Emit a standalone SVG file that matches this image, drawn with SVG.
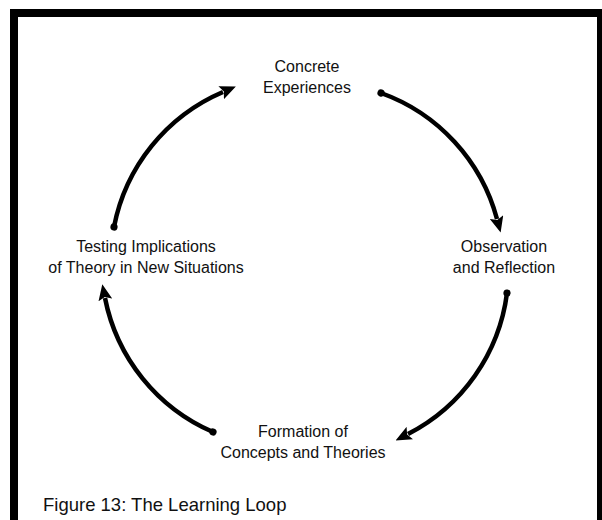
<svg xmlns="http://www.w3.org/2000/svg" width="602" height="520" viewBox="0 0 602 520">
<style>
  .lbl { font-family: "Liberation Sans", Arial, sans-serif; font-size: 16px; fill: #111; text-anchor: middle; }
  .cap { font-family: "Liberation Sans", Arial, sans-serif; font-size: 18.5px; fill: #111; }
  .arc { fill: none; stroke: #000; stroke-width: 4.5; marker-start: url(#dot); marker-end: url(#ah); }
</style>
<defs>
  <marker id="ah" markerUnits="userSpaceOnUse" viewBox="0 0 16 14" markerWidth="16" markerHeight="14" refX="2" refY="7" orient="auto">
    <path d="M0,0 L16,7 L0,14 L3,7 Z" fill="#000"/>
  </marker>
  <marker id="dot" markerUnits="userSpaceOnUse" viewBox="0 0 10 10" markerWidth="10" markerHeight="10" refX="5" refY="5" orient="auto">
    <circle cx="5" cy="5" r="3.6" fill="#000"/>
  </marker>
</defs>
<rect x="0" y="0" width="602" height="520" fill="#fff"/>
<rect id="frame" x="14" y="13" width="587" height="520" fill="none" stroke="#000" stroke-width="8"/>
<g id="connectors">
  <path class="arc" d="M114,227 A185,185 0 0 1 223,92"/>
  <path class="arc" d="M381,93 A185,185 0 0 1 497,219"/>
  <path class="arc" d="M507,293 A185,185 0 0 1 408,434"/>
  <path class="arc" d="M213,432 A185,185 0 0 1 105,298"/>
</g>
<g id="concrete">
  <text class="lbl" x="307" y="72">Concrete</text>
  <text class="lbl" x="307" y="93">Experiences</text>
</g>
<g id="observation">
  <text class="lbl" x="504" y="252">Observation</text>
  <text class="lbl" x="504" y="273">and Reflection</text>
</g>
<g id="formation">
  <text class="lbl" x="303" y="437">Formation of</text>
  <text class="lbl" x="303" y="458">Concepts and Theories</text>
</g>
<g id="testing">
  <text class="lbl" x="146" y="252">Testing Implications</text>
  <text class="lbl" x="146" y="273">of Theory in New Situations</text>
</g>
<text id="caption" class="cap" x="43" y="511">Figure 13: The Learning Loop</text>
</svg>
